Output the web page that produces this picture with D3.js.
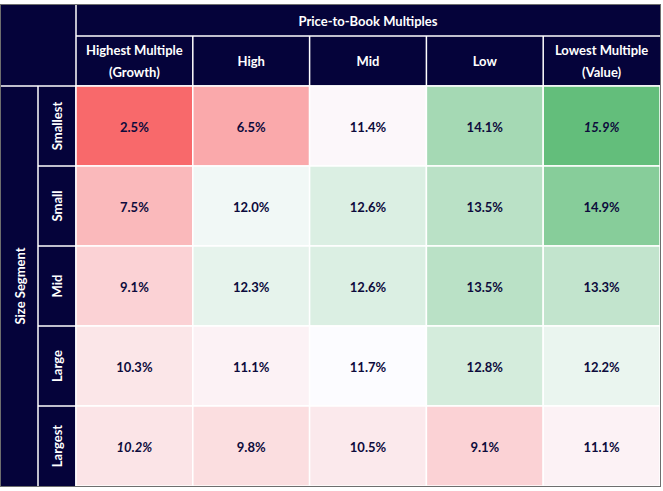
<!DOCTYPE html>
<html>
<head>
<meta charset="utf-8">
<script src="https://cdn.jsdelivr.net/npm/d3@7"></script>
<style>
  body { margin: 0; background: #fff; }
  text { font-family: Lato, "Noto Sans", sans-serif; font-weight: 700; }
</style>
</head>
<body>
<svg id="heatmap" width="663" height="491"></svg>
<script>
// categories
const sizes = ["Smallest", "Small", "Mid", "Large", "Largest"];
const multiples = [["Highest Multiple", "(Growth)"], ["High"], ["Mid"], ["Low"], ["Lowest Multiple", "(Value)"]];

// annualised returns by size row (highest multiple -> lowest multiple)
const smallest = [2.5, 6.5, 11.4, 14.1, 15.9];
const small = [7.5, 12.0, 12.6, 13.5, 14.9];
const mid = [9.1, 12.3, 12.6, 13.5, 13.3];
const large = [10.3, 11.1, 11.7, 12.8, 12.2];
const largest = [10.2, 9.8, 10.5, 9.1, 11.1];
const rows = [smallest, small, mid, large, largest];

// cells printed in italics [row, col]
const italicCells = [[0, 4], [4, 0]];

const navy = "#05033a";
const ink = "#0d0b3c";

const svg = d3.select("#heatmap");
const tLeft = 1, tTop = 5, tRight = 660, tBottom = 486;
const sizeColW = 37, labelColW = 38;
const titleH = 31, headH = 50;

const x0 = tLeft + sizeColW + labelColW;
const y0 = tTop + titleH + headH;

const xScale = d3.scaleBand().domain(d3.range(multiples.length)).range([x0, tRight]);
const yScale = d3.scaleBand().domain(sizes).range([y0, tBottom]);

const all = rows.flat();
const color = d3.scaleLinear()
  .domain([d3.min(all), d3.median(all), d3.max(all)])
  .range(["#f8696b", "#fcfcff", "#63be7b"]);

// header blocks
svg.append("rect").attr("x", tLeft).attr("y", tTop)
  .attr("width", tRight - tLeft).attr("height", tBottom - tTop).attr("fill", navy);

const lines = svg.append("g").attr("stroke", "#fff").attr("stroke-width", 1.5);
lines.append("line").attr("x1", x0).attr("x2", x0).attr("y1", tTop).attr("y2", tBottom);
lines.append("line").attr("x1", x0).attr("x2", tRight).attr("y1", tTop + titleH).attr("y2", tTop + titleH);
lines.append("line").attr("x1", tLeft).attr("x2", tRight).attr("y1", y0).attr("y2", y0);
lines.append("line").attr("x1", tLeft + sizeColW).attr("x2", tLeft + sizeColW).attr("y1", y0).attr("y2", tBottom);
xScale.domain().slice(1).forEach((i) => {
  lines.append("line").attr("x1", xScale(i)).attr("x2", xScale(i)).attr("y1", tTop + titleH).attr("y2", y0);
});
sizes.slice(1).forEach((s) => {
  lines.append("line").attr("x1", tLeft + sizeColW).attr("x2", x0).attr("y1", yScale(s)).attr("y2", yScale(s));
});

// title
svg.append("text")
  .attr("x", (x0 + tRight) / 2).attr("y", tTop + titleH / 2)
  .attr("text-anchor", "middle").attr("dominant-baseline", "central")
  .attr("fill", "#fff").attr("font-size", "13px")
  .text("Price-to-Book Multiples");

// column headers
const colHead = svg.append("g").selectAll("text")
  .data(multiples).enter().append("text")
  .attr("text-anchor", "middle").attr("fill", "#fff").attr("font-size", "13px");
colHead.each(function (d, i) {
  const cy = tTop + titleH + headH / 2;
  d.forEach((ln, k) => {
    d3.select(this).append("tspan")
      .attr("x", xScale(i) + xScale.bandwidth() / 2)
      .attr("y", cy + (k - (d.length - 1) / 2) * 22)
      .attr("dominant-baseline", "central")
      .text(ln);
  });
});

// row labels
svg.append("g").selectAll("text")
  .data(sizes).enter().append("text")
  .attr("transform", (d) => "translate(" + (tLeft + sizeColW + labelColW / 2) + "," + (yScale(d) + yScale.bandwidth() / 2) + ") rotate(-90)")
  .attr("text-anchor", "middle").attr("dominant-baseline", "central")
  .attr("fill", "#fff").attr("font-size", "13px")
  .text((d) => d);

svg.append("text")
  .attr("transform", "translate(" + (tLeft + sizeColW / 2) + "," + ((y0 + tBottom) / 2) + ") rotate(-90)")
  .attr("text-anchor", "middle").attr("dominant-baseline", "central")
  .attr("fill", "#fff").attr("font-size", "13px")
  .text("Size Segment");

// cells
const cells = [];
rows.forEach((r, ri) => r.forEach((v, ci) => cells.push({ row: sizes[ri], ri, ci, v })));
const isItalic = (d) => italicCells.some((c) => c[0] === d.ri && c[1] === d.ci);

const g = svg.append("g");
g.selectAll("rect").data(cells).enter().append("rect")
  .attr("x", (d) => xScale(d.ci)).attr("y", (d) => yScale(d.row))
  .attr("width", xScale.bandwidth()).attr("height", yScale.bandwidth())
  .attr("fill", (d) => color(d.v))
  .attr("stroke", "#fff").attr("stroke-width", 1.5);

g.selectAll("text").data(cells).enter().append("text")
  .attr("x", (d) => xScale(d.ci) + xScale.bandwidth() / 2)
  .attr("y", (d) => yScale(d.row) + yScale.bandwidth() / 2 + 1)
  .attr("text-anchor", "middle").attr("dominant-baseline", "central")
  .attr("fill", ink).attr("font-size", "13px")
  .attr("font-style", (d) => isItalic(d) ? "italic" : "normal")
  .text((d) => d.v.toFixed(1) + "%");

// outer frame
svg.append("rect").attr("x", tLeft - 0.5).attr("y", tTop - 0.5)
  .attr("width", tRight - tLeft + 1).attr("height", tBottom - tTop + 1)
  .attr("fill", "none").attr("stroke", "#6e6e6e").attr("stroke-width", 1);
</script>
</body>
</html>
